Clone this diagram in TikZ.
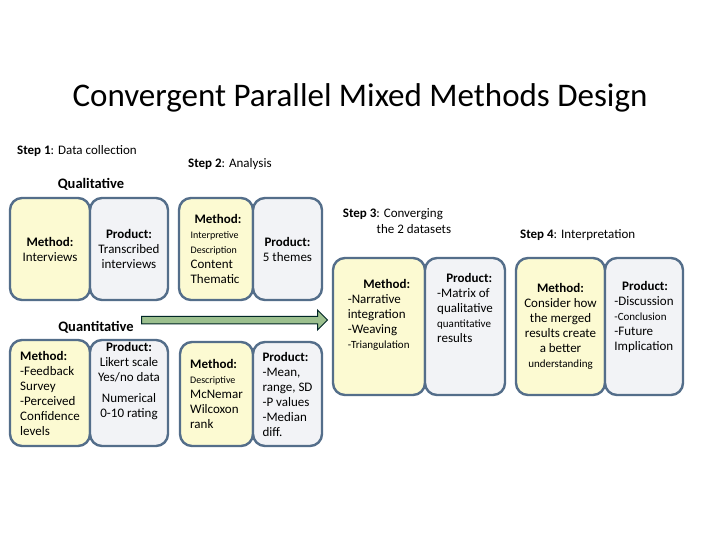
\documentclass[tikz,border=0pt]{standalone}
\usepackage{fontspec}
\setmainfont{Carlito}
\usetikzlibrary{shapes.arrows}
\definecolor{yel}{HTML}{FCFAD2}
\definecolor{gry}{HTML}{F2F3F6}
\definecolor{brd}{HTML}{546E8A}
\definecolor{arr}{HTML}{9CC08E}
\begin{document}
\begin{tikzpicture}[x=1pt,y=-1pt,
 bx/.style={draw=brd,line width=2.4pt,rounded corners=12pt,font=\fontsize{13}{15}\selectfont,inner sep=0},
 yb/.style={bx,fill=yel}, gb/.style={bx,fill=gry},
 lbl/.style={font=\fontsize{13}{15.5}\selectfont,anchor=west,inner sep=0},
 hd/.style={font=\bfseries\fontsize{14.5}{17}\selectfont,inner sep=0}]
\useasboundingbox[fill=white] (0,0) rectangle (720,540);
\node[font=\fontsize{33}{38}\selectfont] (title) at (360,98) {Convergent Parallel Mixed Methods Design};
\node[lbl] (s1) at (17,151) {\textbf{Step 1}: Data collection};
\node[lbl] (s2) at (188,164) {\textbf{Step 2}: Analysis};
\node[hd] (ql) at (91,184) {Qualitative};
\node[hd] (qn) at (96,327) {Quantitative};
\node[lbl,align=left,anchor=center] (s3) at (397,221) {\textbf{Step 3}: Converging\\\hspace{2.6em}the 2 datasets};
\node[lbl] (s4) at (520,235) {\textbf{Step 4}: Interpretation};
% qual
\node[yb,minimum width=80pt,minimum height=102pt,align=center] (a1) at (50,249) {\textbf{Method:}\\Interviews};
\node[gb,minimum width=78pt,minimum height=102pt,align=center] (a2) at (129,249) {\textbf{Product:}\\Transcribed\\interviews};
\node[yb,minimum width=74pt,minimum height=102pt,align=left] (a3) at (216,249) {\hspace{0.3em}\textbf{Method:}\\{\fontsize{10}{12}\selectfont Interpretive}\\{\fontsize{10}{12}\selectfont Description}\\Content\\Thematic};
\node[gb,minimum width=69pt,minimum height=102pt,align=center] (a4) at (287.5,249) {\textbf{Product:}\\5 themes};
% quant
\node[yb,minimum width=80pt,minimum height=106pt,align=left] (b1) at (50,393) {\textbf{Method:}\\-Feedback\\Survey\\-Perceived\\Confidence\\levels};
\node[gb,minimum width=78pt,minimum height=106pt,align=center] (b2) at (129,393) {\textbf{Product:}\\Likert scale\\Yes/no data\\[6pt]Numerical\\0-10 rating\\[12pt]};
\node[yb,minimum width=73pt,minimum height=104pt,align=left] (b3) at (216.5,394) {\textbf{Method:}\\{\fontsize{10}{12}\selectfont Descriptive}\\McNemar\\Wilcoxon\\rank};
\node[gb,minimum width=69pt,minimum height=104pt,align=left] (b4) at (287.5,394) {\textbf{Product:}\\-Mean,\\range, SD\\-P values\\-Median\\diff.};
% step 3
\node[yb,minimum width=92pt,minimum height=137pt,align=left] (c1) at (379,326.5) {\hspace{1.2em}\textbf{Method:}\\-Narrative\\integration\\-Weaving\\{\fontsize{11}{13}\selectfont-Triangulation}\\[10pt]};
\node[gb,minimum width=80pt,minimum height=137pt,align=left] (c2) at (465,326.5) {\hspace{0.7em}\textbf{Product:}\\-Matrix of\\qualitative\\{\fontsize{11}{13}\selectfont quantitative}\\results\\[22pt]};
% step 4
\node[yb,minimum width=89pt,minimum height=137pt,align=center] (d1) at (560.5,326.5) {\textbf{Method:}\\Consider how\\the merged\\results create\\a better\\{\fontsize{11}{13}\selectfont understanding}};
\node[gb,minimum width=78pt,minimum height=137pt,align=left] (d2) at (644,326.5) {\hspace{0.6em}\textbf{Product:}\\-Discussion\\{\fontsize{11}{13}\selectfont -Conclusion}\\-Future\\Implication\\[6pt]};
% arrow
\node[single arrow,draw=black!70!teal,fill=arr,line width=1pt,minimum width=20pt,single arrow head extend=5pt,minimum height=186pt,inner sep=2.5pt,anchor=west] (ar) at (141,320) {};
\end{tikzpicture}
\end{document}
